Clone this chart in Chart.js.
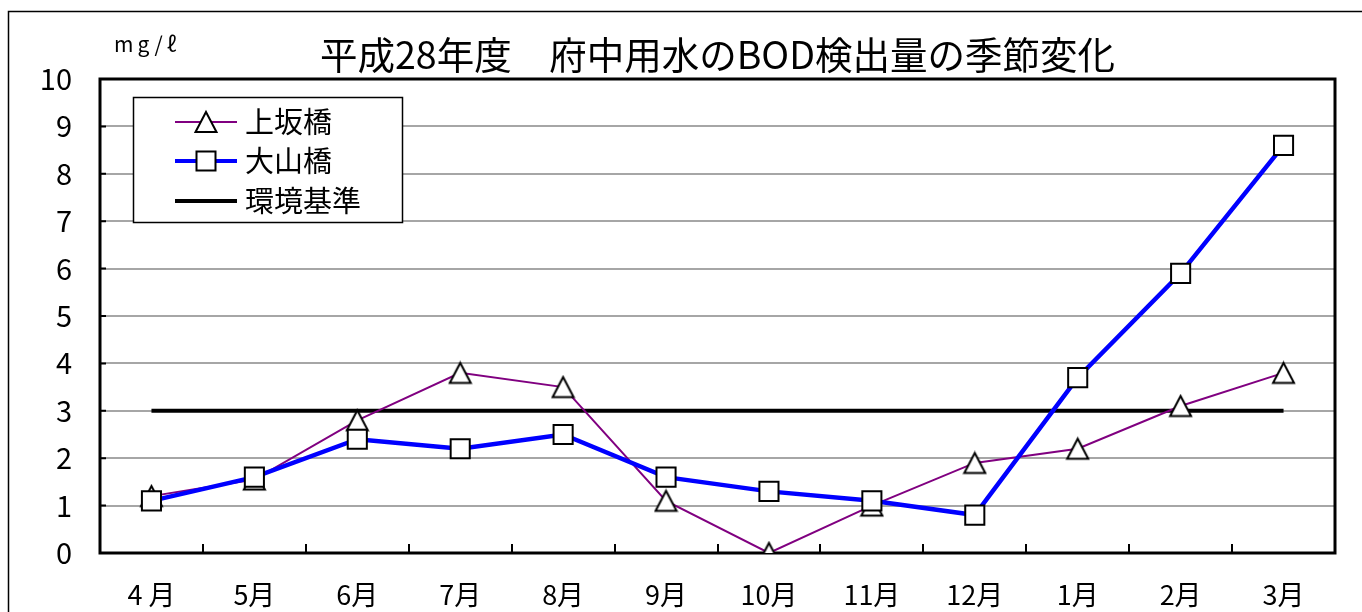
<!DOCTYPE html>
<html><head><meta charset="utf-8">
<script src="https://cdn.jsdelivr.net/npm/chart.js@4.4.1/dist/chart.umd.min.js"></script>
<style>html,body{margin:0;padding:0;background:#fff;} canvas{display:block;}</style>
</head><body>
<canvas id="c" width="1362" height="612"></canvas>
<script>
const months = ['4 月','5月','6月','7月','8月','9月','10月','11月','12月','1月','2月','3月'];
const kamisaka = [1.2, 1.55, 2.8, 3.8, 3.5, 1.1, 0.0, 1.0, 1.9, 2.2, 3.1, 3.8];
const oyama = [1.1, 1.6, 2.4, 2.2, 2.5, 1.6, 1.3, 1.1, 0.8, 3.7, 5.9, 8.6];
const standard = [3, 3, 3, 3, 3, 3, 3, 3, 3, 3, 3, 3];
const seriesNames = ['上坂橋', '大山橋', '環境基準'];
const yTicks = [0, 1, 2, 3, 4, 5, 6, 7, 8, 9, 10];
const titleText = '平成28年度　府中用水のBOD検出量の季節変化';
const unitText = 'mg/ℓ';

const CJK = "'Noto Sans CJK JP', sans-serif";
const NUM = "'Liberation Sans Narrow', 'Noto Sans CJK JP', sans-serif";

function triPath(ctx, cx, cy, w, h) {
  ctx.beginPath();
  ctx.moveTo(cx, cy - h / 2);
  ctx.lineTo(cx + w / 2, cy + h / 2);
  ctx.lineTo(cx - w / 2, cy + h / 2);
  ctx.closePath();
  ctx.fillStyle = '#fff'; ctx.fill();
  ctx.lineWidth = 2; ctx.strokeStyle = '#000'; ctx.stroke();
}
function drawSq(ctx, x, y, s) {
  ctx.beginPath();
  ctx.rect(x - s / 2, y - s / 2, s, s);
  ctx.fillStyle = '#fff'; ctx.fill();
  ctx.lineWidth = 2; ctx.strokeStyle = '#000'; ctx.stroke();
}
// triangle marker image, centred on its bounding box
const triImg = document.createElement('canvas');
triImg.width = 25; triImg.height = 25;
triPath(triImg.getContext('2d'), 12.5, 12.5, 21, 20);

const decor = {
  id: 'decor',
  beforeDraw(chart) {
    const ctx = chart.ctx;
    ctx.save();
    ctx.fillStyle = '#fff';
    ctx.fillRect(0, 0, chart.width, chart.height);
    ctx.strokeStyle = '#000';
    ctx.lineWidth = 1.5;
    ctx.beginPath();
    ctx.moveTo(8.5, chart.height + 5);
    ctx.lineTo(8.5, 11.5);
    ctx.lineTo(chart.width + 5, 11.5);
    ctx.stroke();
    ctx.restore();
  },
  beforeDatasetsDraw(chart) {
    const ctx = chart.ctx;
    const a = chart.chartArea;
    const xs = chart.scales.x, ys = chart.scales.y;
    ctx.save();
    ctx.strokeStyle = '#000';
    ctx.lineWidth = 2;
    ctx.beginPath();
    for (let i = 1; i < months.length; i++) {
      const x = Math.round((xs.getPixelForTick(i - 1) + xs.getPixelForTick(i)) / 2);
      ctx.moveTo(x, a.bottom);
      ctx.lineTo(x, a.bottom - 9);
    }
    yTicks.forEach(v => {
      const y = ys.getPixelForValue(v);
      ctx.moveTo(a.left, y);
      ctx.lineTo(a.left + 6, y);
    });
    ctx.stroke();
    ctx.lineWidth = 3;
    ctx.strokeRect(a.left, a.top, a.right - a.left, a.bottom - a.top);
    ctx.restore();
  },
  afterDatasetsDraw(chart) {
    const ctx = chart.ctx;
    ctx.save();
    ctx.fillStyle = '#000';
    ctx.font = "21px " + CJK;
    ctx.textBaseline = 'middle';
    ctx.textAlign = 'left';
    try { ctx.letterSpacing = '4px'; } catch (e) {}
    ctx.fillText(unitText, 114, 44);
    try { ctx.letterSpacing = '0px'; } catch (e) {}
    const bx = 133, by = 97, bw = 269, bh = 125;
    ctx.fillStyle = '#fff';
    ctx.fillRect(bx, by, bw, bh);
    ctx.lineWidth = 1.5;
    ctx.strokeStyle = '#000';
    ctx.strokeRect(bx + 0.5, by + 0.5, bw, bh);
    const rows = [122, 161, 201];
    const cols = ['#800080', '#0000ff', '#000000'];
    const widths = [2, 4, 4];
    for (let i = 0; i < 3; i++) {
      ctx.beginPath();
      ctx.strokeStyle = cols[i];
      ctx.lineWidth = widths[i];
      ctx.moveTo(175, rows[i]);
      ctx.lineTo(237, rows[i]);
      ctx.stroke();
    }
    triPath(ctx, 206, rows[0], 21, 20);
    drawSq(ctx, 206, rows[1], 19);
    ctx.fillStyle = '#000';
    ctx.font = "29px " + CJK;
    ctx.textBaseline = 'middle';
    for (let i = 0; i < 3; i++) ctx.fillText(seriesNames[i], 245, rows[i]);
    ctx.restore();
  }
};

new Chart(document.getElementById('c'), {
  type: 'line',
  data: {
    labels: months,
    datasets: [
      {
        label: seriesNames[0], data: kamisaka, order: 1,
        borderColor: '#800080', borderWidth: 2, tension: 0,
        pointStyle: triImg, pointRadius: 12, pointHoverRadius: 12,
        pointBackgroundColor: '#fff', pointBorderColor: '#000', pointBorderWidth: 2
      },
      {
        label: seriesNames[1], data: oyama, order: 0,
        borderColor: '#0000ff', borderWidth: 4.5, tension: 0,
        pointStyle: 'rect', pointRadius: 13.5, pointHoverRadius: 13.5,
        pointBackgroundColor: '#fff', pointBorderColor: '#000', pointBorderWidth: 2
      },
      {
        label: seriesNames[2], data: standard, order: 2,
        borderColor: '#000', borderWidth: 4, tension: 0,
        pointRadius: 0, pointHoverRadius: 0
      }
    ]
  },
  options: {
    responsive: false,
    animation: false,
    events: [],
    layout: { padding: { left: 0, right: 27, top: 0, bottom: 0 } },
    plugins: {
      legend: { display: false },
      tooltip: { enabled: false },
      title: {
        display: true, text: titleText, fullSize: false, color: '#000',
        font: { family: CJK, size: 37.5, weight: 'normal', lineHeight: 1.2 },
        padding: { top: 32, bottom: 2 }
      }
    },
    scales: {
      x: {
        offset: true,
        grid: { display: false },
        border: { display: false },
        ticks: { color: '#000', font: { family: NUM, size: 27 }, padding: 18, maxRotation: 0, autoSkip: false },
        afterFit(s) { s.height = 59; }
      },
      y: {
        min: 0, max: 10,
        grid: { color: '#a6a6a6', lineWidth: 2, drawTicks: false },
        border: { display: false },
        ticks: { stepSize: 1, color: '#000', font: { family: NUM, size: 29 }, padding: 28 },
        afterFit(s) { s.width = 100; }
      }
    }
  },
  plugins: [decor]
});
</script>
</body></html>
